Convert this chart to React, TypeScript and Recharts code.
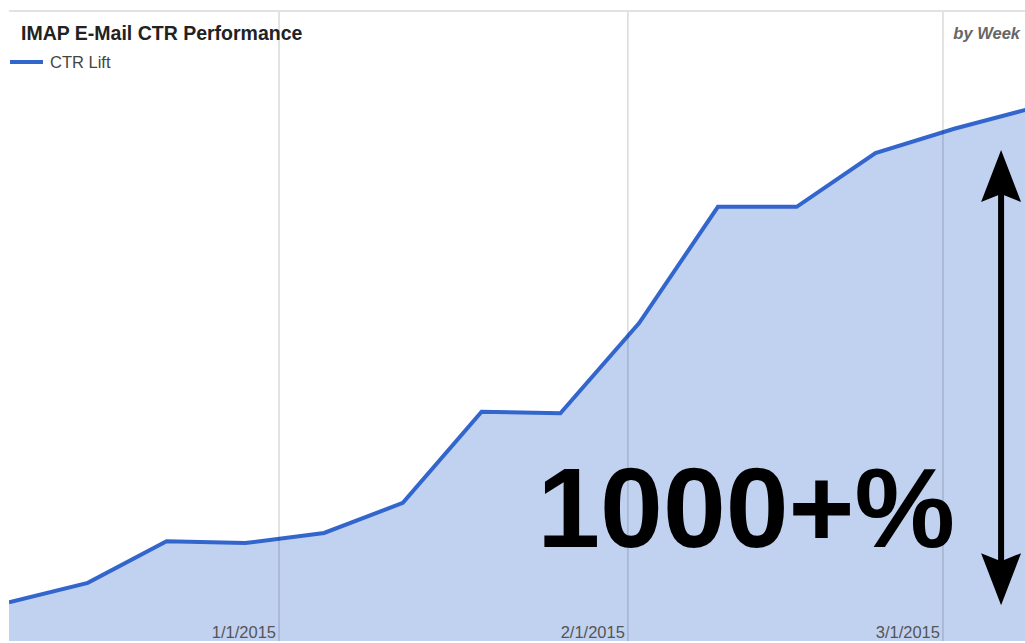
import { Area, AreaChart, ReferenceLine, XAxis, YAxis } from "recharts";

// weekly CTR lift (%)
const weeks = [
  "2014-12-08", "2014-12-15", "2014-12-22", "2014-12-29",
  "2015-01-05", "2015-01-12", "2015-01-19", "2015-01-26",
  "2015-02-02", "2015-02-09", "2015-02-16", "2015-02-23",
  "2015-03-02", "2015-03-09",
];
const ctrLift = [80, 120, 206, 202, 223, 285, 473, 470, 656, 896, 896, 1007, 1057, 1100];

const tickDates = ["2015-01-01", "2015-02-01", "2015-03-01"];
const xDomain = ["2014-12-08", "2015-03-08T07:00"];
const yDomain = [0, 1300];

// annotation
const arrowDate = "2015-03-06T04:00";
const arrowRange = [74, 1013];
const bigLabel = "1000+%";

const FONT = '"Liberation Sans", Arial, Helvetica, sans-serif';
const BLUE = "#3366cc";

const ts = (s: string) => Date.parse(s.includes("T") ? s + ":00Z" : s + "T00:00:00Z");

const fmt = (v: number) => {
  const d = new Date(v);
  return `${d.getUTCMonth() + 1}/${d.getUTCDate()}/${d.getUTCFullYear()}`;
};

const data = weeks.map((w, i) => ({ t: ts(w), lift: ctrLift[i] }));

function DateLabel({ viewBox, value }: any) {
  const { x, y, height } = viewBox;
  return (
    <text x={x - 3} y={y + height - 3} textAnchor="end" fill="#555" fontSize={16.5} fontFamily={FONT}>
      {value}
    </text>
  );
}

function ArrowShape(props: any) {
  const { x1, y1, y2 } = props;
  const x = x1;
  const top = Math.min(y1, y2);
  const bottom = Math.max(y1, y2);
  const head = 52;
  const half = 20;
  return (
    <g>
      <line x1={x} y1={top + head - 10} x2={x} y2={bottom - head + 10} stroke="#000" strokeWidth={6} />
      <polygon
        points={`${x},${top} ${x + half},${top + head} ${x},${top + head - 8} ${x - half},${top + head}`}
        fill="#000"
      />
      <polygon
        points={`${x},${bottom} ${x + half},${bottom - head} ${x},${bottom - head + 8} ${x - half},${bottom - head}`}
        fill="#000"
      />
      <text
        x={x - 46}
        y={bottom - 58}
        textAnchor="end"
        fontSize={113}
        fontWeight="bold"
        fontFamily={FONT}
        fill="#000"
      >
        {bigLabel}
      </text>
    </g>
  );
}

export default function App() {
  return (
    <div
      style={{
        position: "fixed",
        left: 0,
        top: 0,
        width: 1025,
        height: 643,
        overflow: "hidden",
        background: "#fff",
        fontFamily: FONT,
      }}
    >
      <AreaChart
        width={1025}
        height={643}
        data={data}
        margin={{ top: 11, right: 0, bottom: 2, left: 9 }}
      >
        <XAxis
          dataKey="t"
          type="number"
          scale="time"
          domain={xDomain.map(ts)}
          allowDataOverflow
          hide
        />
        <YAxis hide domain={yDomain} allowDataOverflow />
        {tickDates.map((d) => (
          <ReferenceLine
            key={d}
            x={ts(d)}
            stroke="#000"
            strokeOpacity={0.15}
            strokeWidth={1.5}
            label={<DateLabel value={fmt(ts(d))} />}
          />
        ))}
        <ReferenceLine y={yDomain[1]} stroke="#e2e2e2" strokeWidth={2} />
        <Area
          type="linear"
          dataKey="lift"
          stroke={BLUE}
          strokeWidth={4}
          fill={BLUE}
          fillOpacity={0.3}
          dot={false}
          activeDot={false}
          isAnimationActive={false}
        />
        <ReferenceLine
          segment={[
            { x: ts(arrowDate), y: arrowRange[0] },
            { x: ts(arrowDate), y: arrowRange[1] },
          ]}
          shape={<ArrowShape />}
        />
      </AreaChart>

      <div
        style={{
          position: "absolute",
          left: 21,
          top: 24,
          fontSize: 19.5,
          lineHeight: 1,
          fontWeight: "bold",
          color: "#222",
          whiteSpace: "nowrap",
        }}
      >
        IMAP E-Mail CTR Performance
      </div>
      <div style={{ position: "absolute", left: 10, top: 60, width: 33, height: 4, background: BLUE }} />
      <div
        style={{
          position: "absolute",
          left: 50,
          top: 54,
          fontSize: 16.5,
          lineHeight: 1,
          color: "#444",
          whiteSpace: "nowrap",
        }}
      >
        CTR Lift
      </div>
      <div
        style={{
          position: "absolute",
          right: 5,
          top: 25,
          fontSize: 16.5,
          lineHeight: 1,
          fontWeight: "bold",
          fontStyle: "italic",
          color: "#666",
          whiteSpace: "nowrap",
        }}
      >
        by Week
      </div>
    </div>
  );
}
